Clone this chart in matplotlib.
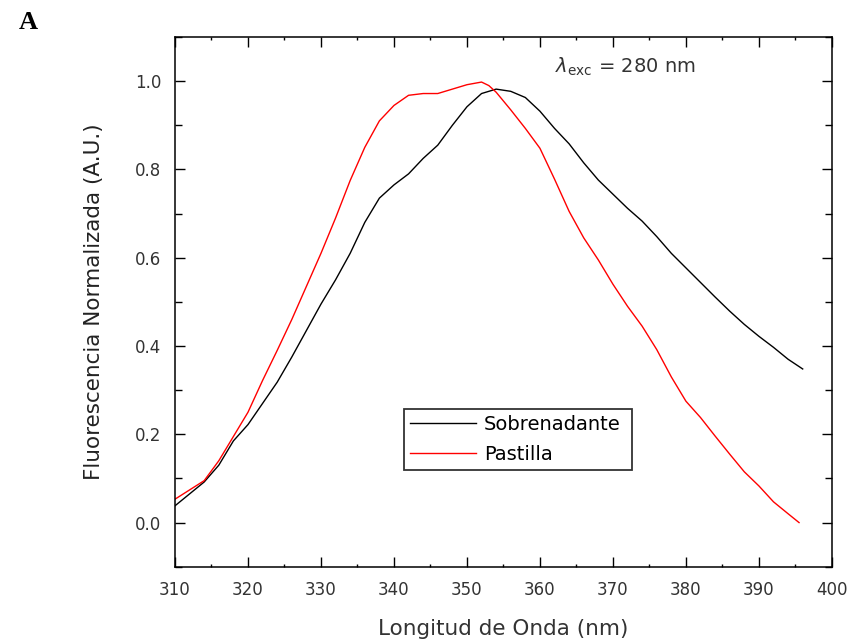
import numpy as np
import matplotlib
matplotlib.use("Agg")
import matplotlib.pyplot as plt
from matplotlib.ticker import MultipleLocator

# Sobrenadante (black)
wl_sob = [310, 312, 314, 316, 318, 320, 322, 324, 326, 328, 330, 332, 334, 336,
          338, 340, 342, 344, 346, 348, 350, 352, 354, 356, 358, 360, 362, 364,
          366, 368, 370, 372, 374, 376, 378, 380, 382, 384, 386, 388, 390, 392,
          394, 396]
fl_sob = [0.038, 0.065, 0.092, 0.13, 0.185, 0.222, 0.27, 0.318, 0.375, 0.435,
          0.495, 0.55, 0.61, 0.68, 0.735, 0.765, 0.79, 0.825, 0.855, 0.90, 0.942,
          0.972, 0.982, 0.977, 0.963, 0.932, 0.893, 0.858, 0.815, 0.776, 0.744,
          0.712, 0.683, 0.648, 0.61, 0.577, 0.544, 0.511, 0.479, 0.449, 0.422,
          0.397, 0.37, 0.348]

# Pastilla (red)
wl_pas = [310, 312, 314, 316, 318, 320, 322, 324, 326, 328, 330, 332, 334, 336,
          338, 340, 342, 344, 346, 348, 350, 352, 353, 354, 356, 358, 360, 362,
          364, 366, 368, 370, 372, 374, 376, 378, 380, 382, 384, 386, 388, 390,
          392, 394, 395.5]
fl_pas = [0.053, 0.074, 0.095, 0.14, 0.195, 0.25, 0.322, 0.39, 0.46, 0.535,
          0.61, 0.69, 0.775, 0.85, 0.91, 0.945, 0.968, 0.972, 0.972, 0.982, 0.992,
          0.998, 0.99, 0.975, 0.935, 0.893, 0.848, 0.778, 0.705, 0.645, 0.595,
          0.54, 0.49, 0.445, 0.392, 0.33, 0.275, 0.238, 0.196, 0.155, 0.115,
          0.083, 0.047, 0.02, 0.0]

fig = plt.figure(figsize=(8.52, 6.44), dpi=100)
ax = fig.add_axes([0.2054, 0.120, 0.771, 0.8225])

ax.plot(wl_sob, fl_sob, color="black", lw=1.0, label="Sobrenadante")
ax.plot(wl_pas, fl_pas, color="red", lw=1.0, label="Pastilla")

ax.set_xlim(310, 400)
ax.set_ylim(-0.1, 1.1)
ax.xaxis.set_major_locator(MultipleLocator(10))
ax.xaxis.set_minor_locator(MultipleLocator(5))
ax.yaxis.set_major_locator(MultipleLocator(0.2))
ax.yaxis.set_minor_locator(MultipleLocator(0.1))
ax.yaxis.set_major_formatter(plt.FuncFormatter(lambda v, p: "%.1f" % v))

ax.tick_params(which="both", direction="in", top=True, right=True, width=1.0)
ax.tick_params(which="major", length=7.5, labelsize=12, labelcolor="#333333", pad=10)
ax.tick_params(axis="x", which="minor", length=2.5)
ax.tick_params(axis="y", which="minor", length=5)
for s in ax.spines.values():
    s.set_linewidth(1.1)

ax.set_xlabel("Longitud de Onda (nm)", fontsize=15.5, color="#333333", labelpad=15)
ax.set_ylabel("Fluorescencia Normalizada (A.U.)", fontsize=15.5, color="#222222", labelpad=22)

ax.text(362, 1.032, r"$\lambda_{\rm exc}$ = 280 nm", fontsize=14, color="#333333",
        va="center", ha="left")

leg = ax.legend(loc="lower left", bbox_to_anchor=(0.349, 0.183, 0.347, 0.117),
                mode="expand", borderaxespad=0, fancybox=False, fontsize=14,
                handlelength=3.4, handletextpad=0.4, borderpad=0.3, labelspacing=0.55,
                frameon=True)
leg.get_frame().set_edgecolor("black")
leg.get_frame().set_linewidth(1.3)

fig.text(0.022, 0.965, "A", fontsize=19, fontweight="bold", family="Liberation Serif",
         va="center", ha="left")

fig.savefig("out.png", dpi=100)
